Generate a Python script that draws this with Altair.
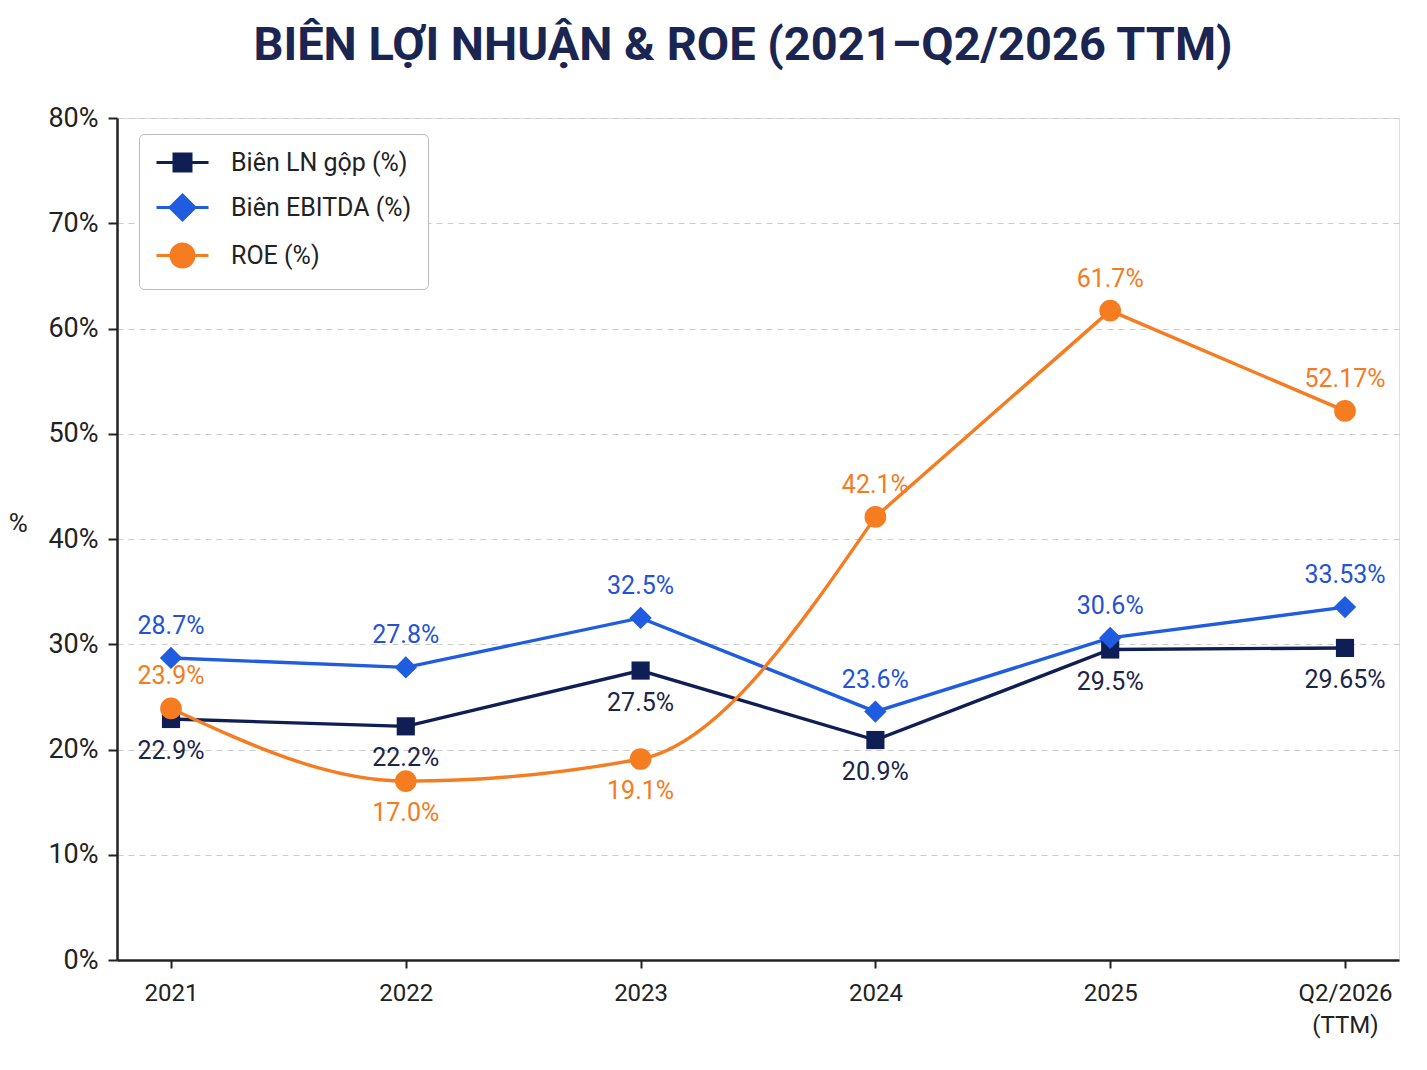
import altair as alt
import pandas as pd

categories = ["2021", "2022", "2023", "2024", "2025", "Q2/2026 (TTM)"]
series_names = ["Biên LN gộp (%)", "Biên EBITDA (%)", "ROE (%)"]
gross = [22.9, 22.2, 27.5, 20.9, 29.5, 29.65]
ebitda = [28.7, 27.8, 32.5, 23.6, 30.6, 33.53]
roe = [23.9, 17.0, 19.1, 42.1, 61.7, 52.17]
gross_labels = ["22.9%", "22.2%", "27.5%", "20.9%", "29.5%", "29.65%"]
ebitda_labels = ["28.7%", "27.8%", "32.5%", "23.6%", "30.6%", "33.53%"]
roe_labels = ["23.9%", "17.0%", "19.1%", "42.1%", "61.7%", "52.17%"]
gross_pos = ["below"] * 6
ebitda_pos = ["above"] * 6
roe_pos = ["above", "below", "below", "above", "above", "above"]
y_ticks = [0, 10, 20, 30, 40, 50, 60, 70, 80]
roe_curved = ["2021", "2022", "2023", "2024"]
roe_straight = ["2024", "2025", "Q2/2026 (TTM)"]

colors = ["#0f1f55", "#1f5ce0", "#f57c20"]
text_colors = ["#1c2448", "#2452d6", "#f47b20"]
shapes = ["square", "diamond", "circle"]
legend_paths = [
    "M-2.6,0H2.6M-0.85,-0.85H0.85V0.85H-0.85Z",
    "M-2.6,0H2.6M0,-1.25L1.25,0L0,1.25L-1.25,0Z",
    "M-2.6,0H2.6M-1.15,0A1.15,1.15 0 1,0 1.15,0A1.15,1.15 0 1,0 -1.15,0Z",
]
sizes = [330, 500, 470]

rows = []
for name, vals, labs, pos in zip(series_names, [gross, ebitda, roe],
                                 [gross_labels, ebitda_labels, roe_labels],
                                 [gross_pos, ebitda_pos, roe_pos]):
    for c, v, l, p in zip(categories, vals, labs, pos):
        rows.append({"cat": c, "series": name, "value": v, "label": l, "pos": p})
df = pd.DataFrame(rows)

FONT = "Roboto"

x_enc = alt.X("cat:N", sort=categories, title=None,
              scale=alt.Scale(padding=0.23),
              axis=alt.Axis(labelAngle=0, labelFontSize=24, labelColor="#222222",
                            labelFont=FONT, labelPadding=13, tickSize=8,
                            tickColor="#222222", domainColor="#222222",
                            domainWidth=2.5, tickWidth=2, grid=False,
                            labelExpr="split(datum.label, ' ')", labelLineHeight=32))
y_enc = alt.Y("value:Q", title="%",
              scale=alt.Scale(domain=[0, 80], nice=False),
              axis=alt.Axis(values=y_ticks, labelExpr="datum.value + '%'",
                            labelFontSize=27, labelColor="#222222", labelFont=FONT,
                            labelPadding=10, tickSize=9, tickColor="#222222",
                            tickWidth=2, domainColor="#222222", domainWidth=2.5,
                            grid=True, gridColor="#cccccc", gridDash=[6, 5],
                            gridWidth=1.2, titleAngle=0, titleFontSize=26,
                            titleFont=FONT, titleFontWeight="normal",
                            titleColor="#222222", titlePadding=30,
                            titleBaseline="middle", titleY=405))

color_scale = alt.Scale(domain=series_names, range=colors)

base = alt.Chart(df)

leg = alt.Legend(title=None, orient="none", legendX=22, legendY=16,
                 labelFontSize=25, labelFont=FONT, labelColor="#222222",
                 labelLimit=400, symbolOffset=15,
                 symbolStrokeWidth=3, symbolSize=400, labelOffset=36,
                 rowPadding=12, padding=16, fillColor="white",
                 strokeColor="#bbbbbb", cornerRadius=5, symbolOpacity=1)

legend_layer = base.mark_point(
    filled=True, size=400, opacity=0, strokeWidth=3).encode(
    x=x_enc, y=y_enc,
    stroke=alt.Stroke("series:N", scale=alt.Scale(domain=series_names, range=colors), legend=leg),
    shape=alt.Shape("series:N", scale=alt.Scale(domain=series_names, range=legend_paths), legend=leg),
    fill=alt.Fill("series:N", scale=alt.Scale(domain=series_names, range=colors), legend=leg),
)

lines_straight = base.transform_filter(alt.datum.series != "ROE (%)").mark_line(
    strokeWidth=3.4).encode(
    x=x_enc, y=y_enc,
    color=alt.Color("series:N", scale=color_scale, legend=None),
    detail="series:N")

line_roe_a = base.transform_filter(alt.datum.series == "ROE (%)").transform_filter(
    alt.FieldOneOfPredicate(field="cat", oneOf=roe_curved)).mark_line(
    strokeWidth=3.4, interpolate="monotone").encode(
    x=x_enc, y=y_enc,
    color=alt.Color("series:N", scale=color_scale, legend=None))
line_roe_b = base.transform_filter(alt.datum.series == "ROE (%)").transform_filter(
    alt.FieldOneOfPredicate(field="cat", oneOf=roe_straight)).mark_line(
    strokeWidth=3.4).encode(
    x=x_enc, y=y_enc,
    color=alt.Color("series:N", scale=color_scale, legend=None))

point_layers = []
for name, shp, sz in zip(series_names, shapes, sizes):
    point_layers.append(
        base.transform_filter(alt.datum.series == name).mark_point(
            filled=True, shape=shp, size=sz, opacity=1).encode(
            x=x_enc, y=y_enc,
            color=alt.Color("series:N", scale=color_scale, legend=None)))

label_layers = []
for name, tc in zip(series_names, text_colors):
    for where, dy in (("above", -32), ("below", 32)):
        label_layers.append(
            base.transform_filter(alt.datum.series == name)
            .transform_filter(alt.datum.pos == where)
            .mark_text(fontSize=25, font=FONT, dy=dy, baseline="middle", color=tc)
            .encode(x=x_enc, y=y_enc, text="label:N"))

chart = alt.layer(
    legend_layer, lines_straight, line_roe_a, line_roe_b, *point_layers, *label_layers
).properties(
    width=1282, height=842,
    padding={"left": 0, "top": 14, "right": 10, "bottom": 10},
    title=alt.TitleParams("BIÊN LỢI NHUẬN & ROE (2021–Q2/2026 TTM)",
                          fontSize=47, font=FONT, fontWeight="bold",
                          color="#1b2551", anchor="middle", offset=34, dx=-15),
).configure_view(stroke=None).configure(background="white")

chart.save("out.html", embed_options={"renderer": "svg", "actions": False})
